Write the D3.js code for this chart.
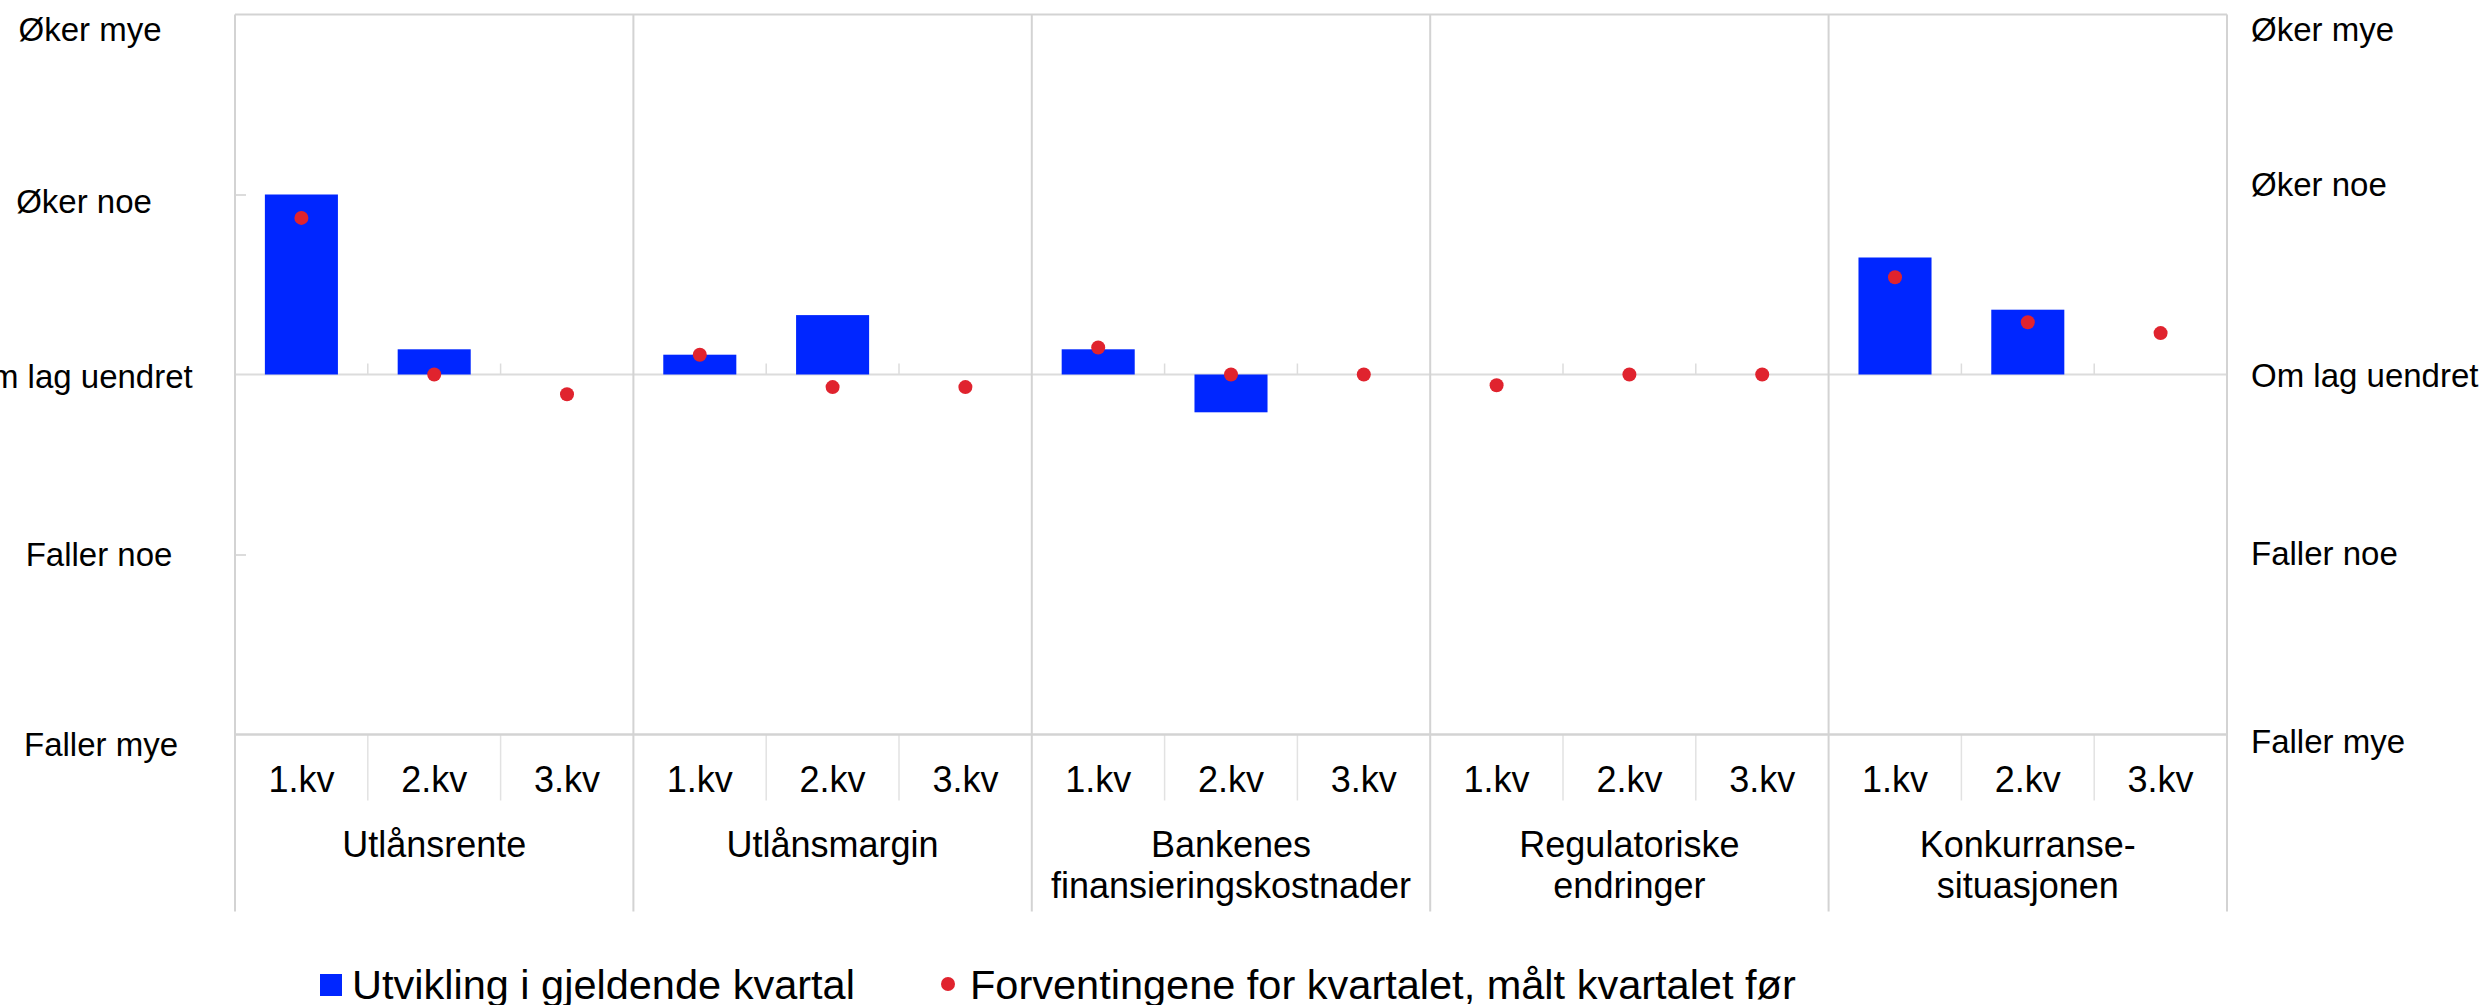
<!DOCTYPE html>
<html>
<head>
<meta charset="utf-8">
<script src="https://cdn.jsdelivr.net/npm/d3@7"></script>
<style>
  html, body { margin: 0; padding: 0; background: #fff; }
  svg { display: block; font-family: "Liberation Sans", Arial, sans-serif; }
</style>
</head>
<body>
<svg id="chart" width="2485" height="1005"></svg>
<script>
// ---- data ----
const groups = ["Utlånsrente", "Utlånsmargin", "Bankenes finansieringskostnader", "Regulatoriske endringer", "Konkurranse-situasjonen"];
const groupLines = [["Utlånsrente"], ["Utlånsmargin"], ["Bankenes", "finansieringskostnader"], ["Regulatoriske", "endringer"], ["Konkurranse-", "situasjonen"]];
const quarters = ["1.kv", "2.kv", "3.kv"];
// bars: Utvikling i gjeldende kvartal (null = no observation)
const utvUtlansrente   = [1.00, 0.14, null];
const utvUtlansmargin  = [0.11, 0.33, null];
const utvFinansiering  = [0.14, -0.21, null];
const utvRegulatoriske = [0, 0, null];
const utvKonkurranse   = [0.65, 0.36, null];
// dots: Forventingene for kvartalet, målt kvartalet før
const forUtlansrente   = [0.87, 0.00, -0.11];
const forUtlansmargin  = [0.11, -0.07, -0.07];
const forFinansiering  = [0.15, 0.00, 0.00];
const forRegulatoriske = [-0.06, 0.00, 0.00];
const forKonkurranse   = [0.54, 0.29, 0.23];
const yTickValues = [2, 1, 0, -1, -2];
const yTickLabels = ["Øker mye", "Øker noe", "Om lag uendret", "Faller noe", "Faller mye"];
const legendLabels = ["Utvikling i gjeldende kvartal", "Forventingene for kvartalet, målt kvartalet før"];

const utvikling = [utvUtlansrente, utvUtlansmargin, utvFinansiering, utvRegulatoriske, utvKonkurranse];
const forventning = [forUtlansrente, forUtlansmargin, forFinansiering, forRegulatoriske, forKonkurranse];

// ---- layout ----
const W = 2485, H = 1005;
const M = { left: 235, right: 258, top: 14.5, bottom: 270.5 };
const plotBottom = H - M.bottom;
const BLUE = "#0026ff", RED = "#e0232e", GRID = "#d3d3d3";

const svg = d3.select("#chart");

const x0 = d3.scaleBand().domain(groups).range([M.left, W - M.right]).paddingInner(0).paddingOuter(0);
const x1 = d3.scaleBand().domain(quarters).range([0, x0.bandwidth()]).paddingInner(0.45).paddingOuter(0.225);
const y = d3.scaleLinear().domain([-2, 2]).range([plotBottom, M.top]);

// zero line
svg.append("line")
  .attr("x1", M.left).attr("x2", W - M.right)
  .attr("y1", y(0)).attr("y2", y(0))
  .attr("stroke", "#dcdcdc").attr("stroke-width", 2);

// left axis ticks (inward)
const leftAxis = d3.axisLeft(y).tickValues([1, -1]).tickSize(-11).tickFormat("");
const gl = svg.append("g").attr("transform", `translate(${M.left},0)`).call(leftAxis);
gl.select(".domain").remove();
gl.selectAll(".tick line").attr("stroke", "#dcdcdc").attr("stroke-width", 2);

// small ticks at zero line, quarter boundaries
groups.forEach(g => {
  quarters.slice(1).forEach(q => {
    const xb = x0(g) + x1(q) - x1.step() * x1.paddingInner() / 2;
    svg.append("line")
      .attr("x1", xb).attr("x2", xb)
      .attr("y1", y(0) - 11).attr("y2", y(0))
      .attr("stroke", "#dcdcdc").attr("stroke-width", 1.5);
    svg.append("line")
      .attr("x1", xb).attr("x2", xb)
      .attr("y1", plotBottom).attr("y2", plotBottom + 66)
      .attr("stroke", "#e2e2e2").attr("stroke-width", 1.5);
  });
});

// group separators (full height incl. category axis)
const sepX = groups.map(g => x0(g)).concat([x0(groups[groups.length - 1]) + x0.bandwidth()]);
svg.selectAll("line.sep").data(sepX).enter().append("line")
  .attr("class", "sep")
  .attr("x1", d => d).attr("x2", d => d)
  .attr("y1", M.top).attr("y2", plotBottom + 177)
  .attr("stroke", GRID).attr("stroke-width", 2);

// top and bottom frame
svg.append("line").attr("x1", M.left).attr("x2", W - M.right).attr("y1", M.top).attr("y2", M.top)
  .attr("stroke", GRID).attr("stroke-width", 2);
svg.append("line").attr("x1", M.left).attr("x2", W - M.right).attr("y1", plotBottom).attr("y2", plotBottom)
  .attr("stroke", GRID).attr("stroke-width", 2.5);

// bars
groups.forEach((g, gi) => {
  const gg = svg.append("g").attr("transform", `translate(${x0(g)},0)`);
  gg.selectAll("rect").data(quarters.map((q, qi) => ({ q, v: utvikling[gi][qi] })).filter(d => d.v !== null && d.v !== 0))
    .enter().append("rect")
    .attr("x", d => x1(d.q))
    .attr("width", x1.bandwidth())
    .attr("y", d => y(Math.max(0, d.v)))
    .attr("height", d => Math.abs(y(d.v) - y(0)))
    .attr("fill", BLUE);
});

// dots
groups.forEach((g, gi) => {
  const gg = svg.append("g").attr("transform", `translate(${x0(g)},0)`);
  gg.selectAll("circle").data(quarters.map((q, qi) => ({ q, v: forventning[gi][qi] })).filter(d => d.v !== null))
    .enter().append("circle")
    .attr("cx", d => x1(d.q) + x1.bandwidth() / 2)
    .attr("cy", d => y(d.v))
    .attr("r", 7)
    .attr("fill", RED);
});

// y labels left and right
const leftDy = [14.5, 6.5, 1.5, 0, 9.5];
const leftX = [90, 84, 79, 99, 101];
const rightDy = [14.5, -10.5, 0.5, -1.5, 6.5];
svg.selectAll("text.yl").data(yTickValues).enter().append("text")
  .attr("class", "yl")
  .attr("x", (d, i) => leftX[i])
  .attr("y", (d, i) => y(d) + leftDy[i])
  .attr("dy", "0.36em")
  .attr("text-anchor", "middle")
  .attr("font-size", 33)
  .attr("fill", "#000")
  .text((d, i) => yTickLabels[i]);
svg.selectAll("text.yr").data(yTickValues).enter().append("text")
  .attr("class", "yr")
  .attr("x", W - M.right + 24)
  .attr("y", (d, i) => y(d) + rightDy[i])
  .attr("dy", "0.36em")
  .attr("text-anchor", "start")
  .attr("font-size", 33)
  .attr("fill", "#000")
  .text((d, i) => yTickLabels[i]);

// quarter labels
groups.forEach(g => {
  svg.append("g").selectAll("text").data(quarters).enter().append("text")
    .attr("x", q => x0(g) + x1(q) + x1.bandwidth() / 2)
    .attr("y", plotBottom + 57)
    .attr("text-anchor", "middle")
    .attr("font-size", 36)
    .attr("fill", "#000")
    .text(q => q);
});

// group labels
groups.forEach((g, gi) => {
  const t = svg.append("text")
    .attr("x", x0(g) + x0.bandwidth() / 2)
    .attr("y", plotBottom + 122)
    .attr("text-anchor", "middle")
    .attr("font-size", 36)
    .attr("fill", "#000");
  groupLines[gi].forEach((ln, li) => {
    t.append("tspan").attr("x", x0(g) + x0.bandwidth() / 2).attr("dy", li === 0 ? 0 : 41).text(ln);
  });
});

// legend
const lg = svg.append("g");
lg.append("rect").attr("x", 320).attr("y", 974).attr("width", 22).attr("height", 22).attr("fill", BLUE);
lg.append("text").attr("x", 352).attr("y", 999).attr("font-size", 41.5).attr("fill", "#000").text(legendLabels[0]);
lg.append("circle").attr("cx", 948).attr("cy", 984).attr("r", 7).attr("fill", RED);
lg.append("text").attr("x", 970).attr("y", 999).attr("font-size", 41.5).attr("fill", "#000").text(legendLabels[1]);
</script>
</body>
</html>
